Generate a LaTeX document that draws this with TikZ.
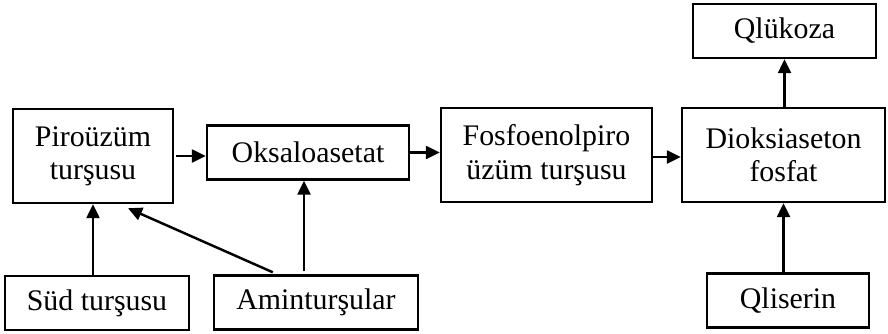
\documentclass[tikz,border=0pt]{standalone}
\usepackage{fontspec}
\setmainfont{Liberation Serif}
\usetikzlibrary{arrows.meta,calc}

\begin{document}
\begin{tikzpicture}[
  font=\fontsize{17}{19}\selectfont,
  arrow/.style={-{Triangle[length=2.8mm, width=2.6mm]}, line width=1.4pt, draw=black},
  box/.style={draw=black, line width=1.4pt, align=center, inner sep=2pt},
  tallbox/.style={box, minimum height=18.8mm},
  flatbox/.style={box, minimum height=10.8mm}
]
\useasboundingbox (0,0) rectangle (17.76,6.66);

% Main chain.
\node[tallbox, minimum width=32mm] (piro) at (1.86,3.54) {Piroüzüm\\turşusu};
\node[flatbox, minimum width=40.4mm] (oksalo) at (6.16,3.61) {Oksaloasetat};
\node[tallbox, minimum width=42.2mm] (fosfo) at (10.93,3.56) {Fosfoenolpiro\\üzüm turşusu};
\node[tallbox, minimum width=40.6mm] (dioksi) at (15.67,3.56) {Dioksiaseton\\fosfat};
\node[flatbox, minimum width=36.6mm] (glukoza) at (15.69,6.04) {Qlükoza};

% Sources.
\node[flatbox, minimum width=36.8mm] (sud) at (1.94,0.60) {Süd turşusu};
\node[flatbox, minimum width=40.8mm] (amin) at (6.32,0.61) {Aminturşular};
\node[flatbox, minimum width=32.4mm] (qliserin) at (15.76,0.65) {Qliserin};

\draw[arrow] ([xshift=0.04cm]piro.east) -- (piro.east -| oksalo.west);
\draw[arrow] (oksalo.east) -- (oksalo.east -| fosfo.west);
\draw[arrow] ([yshift=-0.04cm]fosfo.east) -- ([yshift=-0.04cm]fosfo.east -| dioksi.west);
\draw[arrow] (dioksi.north -| glukoza) -- (glukoza.south);

\draw[arrow] (sud.north -| piro) -- (piro.south);
\draw[arrow] ($(amin.north west)+(1.2,0.04)$) -- ($(piro.south)+(0.7,-0.08)$);
\draw[arrow] ([xshift=-0.08cm,yshift=0.06cm]oksalo.south |- amin.north) -- ([xshift=-0.08cm]oksalo.south);
\draw[arrow] (qliserin.north -| dioksi) -- (dioksi.south);

\end{tikzpicture}
\end{document}
